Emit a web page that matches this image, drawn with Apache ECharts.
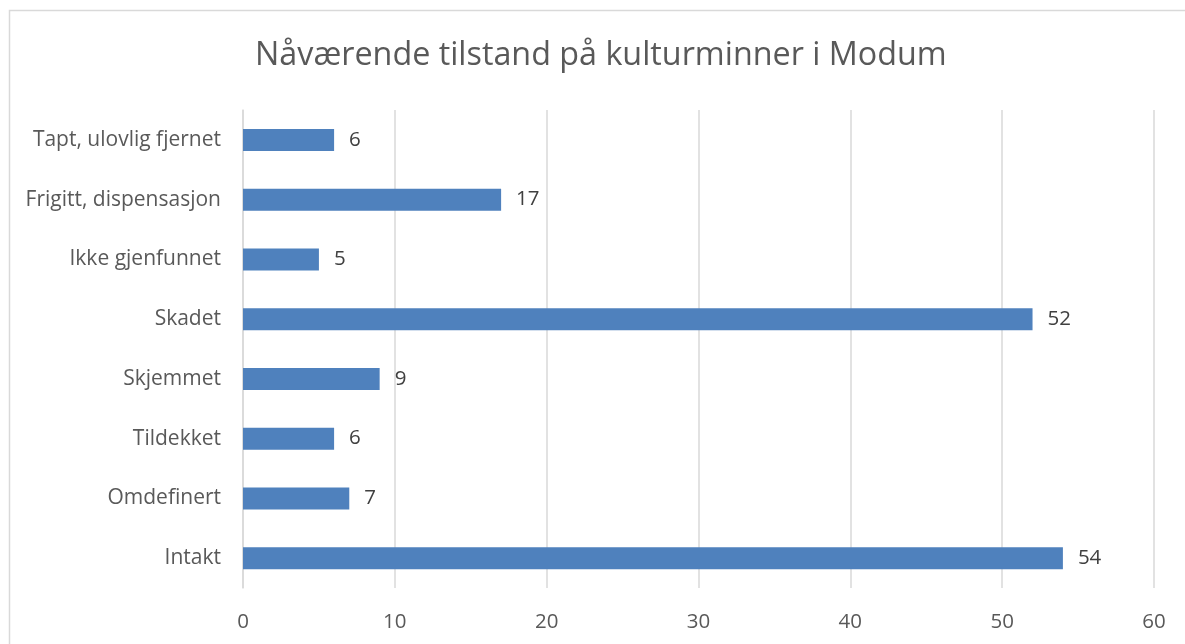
<!DOCTYPE html>
<html>
<head>
<meta charset="utf-8">
<script src="https://cdn.jsdelivr.net/npm/echarts@6/dist/echarts.min.js"></script>
<style>
html,body{margin:0;padding:0;background:#fff;}
#c{width:1185px;height:644px;}
</style>
</head>
<body>
<div id="c"></div>
<script>
const titleText = "Nåværende tilstand på kulturminner i Modum";
const categories = ["Intakt","Omdefinert","Tildekket","Skjemmet","Skadet","Ikke gjenfunnet","Frigitt, dispensasjon","Tapt, ulovlig fjernet"];
const values = [54, 7, 6, 9, 52, 5, 17, 6];
const axisMin = 0, axisMax = 60, axisStep = 10;

const font = "'Open Sans', Lato, sans-serif";
const chart = echarts.init(document.getElementById('c'), null, {renderer:'canvas'});
chart.setOption({
  animation:false,
  backgroundColor:'#fff',
  graphic:[{type:'rect', shape:{x:9.5,y:10.5,width:1300,height:800}, style:{fill:'none', stroke:'#D9D9D9', lineWidth:1.5}, silent:true, z:-1}],
  title:{text:titleText, left:250, top:35, textStyle:{fontFamily:font, fontSize:32.3, fontWeight:'normal', color:'#595959'}},
  grid:{left:243, right:31, top:110, bottom:56, containLabel:false},
  xAxis:{type:'value', min:axisMin, max:axisMax, interval:axisStep,
    axisLine:{show:false}, axisTick:{show:false},
    splitLine:{lineStyle:{color:'#D9D9D9', width:1.5}},
    axisLabel:{fontFamily:font, fontSize:20.5, color:'#595959', margin:24}},
  yAxis:{type:'category', data:categories,
    axisLine:{show:true, lineStyle:{color:'#D9D9D9', width:1.5}}, axisTick:{show:false},
    axisLabel:{fontFamily:font, fontSize:21, color:'#595959', margin:22}},
  series:[{type:'bar', data:values, barWidth:22, itemStyle:{color:'#4F81BD'},
    label:{show:true, position:'right', distance:15, fontFamily:font, fontSize:20.5, color:'#404040'}}]
});
</script>
</body>
</html>
